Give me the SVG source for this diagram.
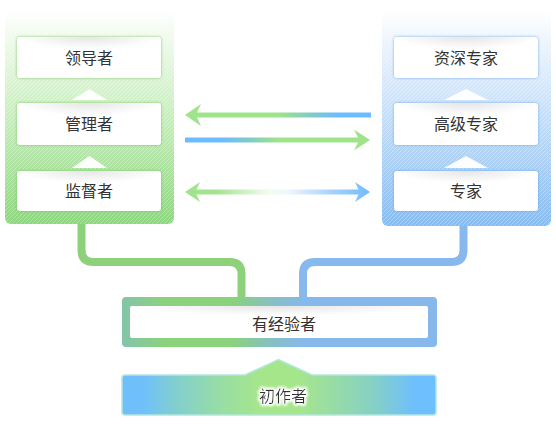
<svg xmlns="http://www.w3.org/2000/svg" width="556" height="432" viewBox="0 0 556 432">
<defs>
<style>
.t{font-family:"Noto Sans CJK SC","Noto Sans",sans-serif;font-size:16px;fill:#333;text-anchor:middle}
.box{fill:#fff}
.shade{fill:url(#shade)}
.tri{fill:#fff}
.conn{fill:none;stroke-width:8}
</style>
<linearGradient id="gPanel" x1="0" y1="0" x2="0" y2="1">
<stop offset="0" stop-color="#ffffff"/>
<stop offset="0.15" stop-color="#eef9ea"/>
<stop offset="0.5" stop-color="#c9edbf"/>
<stop offset="1" stop-color="#8ed680"/>
</linearGradient>
<linearGradient id="bPanel" x1="0" y1="0" x2="0" y2="1">
<stop offset="0" stop-color="#ffffff"/>
<stop offset="0.15" stop-color="#edf4fc"/>
<stop offset="0.5" stop-color="#c6def8"/>
<stop offset="1" stop-color="#87bcf0"/>
</linearGradient>
<pattern id="hatch" patternUnits="userSpaceOnUse" width="4" height="4">
<path d="M-1,1 l2,-2 M0,4 l4,-4 M3,5 l2,-2" stroke="#fff" stroke-opacity="0.3" stroke-width="1"/>
</pattern>
<radialGradient id="shade" cx="0.5" cy="0" r="0.5" gradientTransform="scale(1,0.6)">
<stop offset="0" stop-color="#000" stop-opacity="0.1"/>
<stop offset="1" stop-color="#000" stop-opacity="0"/>
</radialGradient>
<filter id="gGlow" x="-10%" y="-20%" width="120%" height="140%">
<feDropShadow dx="0" dy="0" stdDeviation="1.4" flood-color="#6fc45c" flood-opacity="0.9"/>
</filter>
<filter id="bGlow" x="-10%" y="-20%" width="120%" height="140%">
<feDropShadow dx="0" dy="0" stdDeviation="1.4" flood-color="#6aa8e8" flood-opacity="0.9"/>
</filter>
<filter id="wGlow" x="-20%" y="-40%" width="140%" height="180%">
<feMorphology in="SourceAlpha" operator="dilate" radius="1.2" result="d"/>
<feGaussianBlur in="d" stdDeviation="1.8" result="b"/>
<feFlood flood-color="#fff"/>
<feComposite in2="b" operator="in" result="g"/>
<feMerge><feMergeNode in="g"/><feMergeNode in="g"/><feMergeNode in="g"/><feMergeNode in="SourceGraphic"/></feMerge>
</filter>
<linearGradient id="aL" gradientUnits="userSpaceOnUse" x1="185" y1="0" x2="371" y2="0">
<stop offset="0" stop-color="#9fe38b"/>
<stop offset="0.5" stop-color="#9fe38b"/>
<stop offset="0.68" stop-color="#80cbc6"/>
<stop offset="0.82" stop-color="#6ebcff"/>
<stop offset="1" stop-color="#6ebcff"/>
</linearGradient>
<linearGradient id="aR" gradientUnits="userSpaceOnUse" x1="185" y1="0" x2="370" y2="0">
<stop offset="0" stop-color="#6ebcff"/>
<stop offset="0.2" stop-color="#6ebcff"/>
<stop offset="0.35" stop-color="#80cbc6"/>
<stop offset="0.5" stop-color="#9fe38b"/>
<stop offset="1" stop-color="#9fe38b"/>
</linearGradient>
<linearGradient id="aD" gradientUnits="userSpaceOnUse" x1="185" y1="0" x2="370" y2="0">
<stop offset="0" stop-color="#9fe38b"/>
<stop offset="0.18" stop-color="#a6e593"/>
<stop offset="0.45" stop-color="#f3fbef"/>
<stop offset="0.56" stop-color="#eef6fe"/>
<stop offset="0.8" stop-color="#a4d1fc"/>
<stop offset="1" stop-color="#6ebcff"/>
</linearGradient>
<linearGradient id="exp" gradientUnits="userSpaceOnUse" x1="122" y1="0" x2="437" y2="0">
<stop offset="0" stop-color="#84c4aa"/>
<stop offset="0.14" stop-color="#8bd27c"/>
<stop offset="0.35" stop-color="#8bd27c"/>
<stop offset="0.48" stop-color="#86bfc6"/>
<stop offset="0.58" stop-color="#87b8ec"/>
<stop offset="1" stop-color="#87b8ec"/>
</linearGradient>
<linearGradient id="beg" gradientUnits="userSpaceOnUse" x1="122" y1="0" x2="436" y2="0">
<stop offset="0" stop-color="#6ebffd"/>
<stop offset="0.07" stop-color="#70c0fa"/>
<stop offset="0.16" stop-color="#80cdd2"/>
<stop offset="0.3" stop-color="#96dca8"/>
<stop offset="0.44" stop-color="#a6e68b"/>
<stop offset="0.56" stop-color="#a6e68b"/>
<stop offset="0.8" stop-color="#86d0c4"/>
<stop offset="0.93" stop-color="#6ebffd"/>
<stop offset="1" stop-color="#6ebffd"/>
</linearGradient>
</defs>

<g id="connectors">
<path class="conn" stroke="#8dd27b" d="M81.5,222 V250 Q81.5,262 93.5,262 H229.5 Q241.5,262 241.5,274 V300"/>
<path class="conn" stroke="#88b9ee" d="M463.5,224 V250 Q463.5,262 451.5,262 H315 Q303,262 303,274 V300"/>
<path id="arrow-left" fill="url(#aL)" d="M185,115 L201,104 L197,112.5 H371 V117.5 H197 L201,126 Z"/>
<path id="arrow-right" fill="url(#aR)" d="M370,140 L354,129.5 L358,137.5 H185 V142.5 H358 L354,150.5 Z"/>
<path id="arrow-both" fill="url(#aD)" d="M185,192 L200,182 L196.5,189.5 H358.5 L355,182 L370,192 L355,202 L358.5,194.5 H196.5 L200,202 Z"/>
</g>

<g id="panel-left">
<rect x="5" y="10" width="169" height="214" rx="6" fill="url(#gPanel)"/>
<rect x="5" y="10" width="169" height="214" rx="6" fill="url(#hatch)"/>
</g>
<g id="panel-right">
<rect x="382" y="10" width="169" height="216" rx="6" fill="url(#bPanel)"/>
<rect x="382" y="10" width="169" height="216" rx="6" fill="url(#hatch)"/>
</g>

<g id="leader">
<rect class="box" x="17" y="37" width="144" height="41" rx="3" filter="url(#gGlow)"/>
<rect class="shade" x="17" y="37" width="144" height="41" rx="3"/>
<text class="t" x="89" y="64">领导者</text>
</g>
<polygon class="tri" points="72,100 89.5,89 107,100" fill-opacity="0.95"/>
<g id="manager">
<rect class="box" x="17" y="103" width="144" height="42" rx="3" filter="url(#gGlow)"/>
<rect class="shade" x="17" y="103" width="144" height="42" rx="3"/>
<text class="t" x="89" y="130">管理者</text>
</g>
<polygon class="tri" points="72,168 89.5,156 107,168" fill-opacity="0.95"/>
<g id="supervisor">
<rect class="box" x="17" y="171" width="144" height="40" rx="3" filter="url(#gGlow)"/>
<rect class="shade" x="17" y="171" width="144" height="40" rx="3"/>
<text class="t" x="89" y="197">监督者</text>
</g>

<g id="senior-expert">
<rect class="box" x="394" y="37" width="144" height="41" rx="3" filter="url(#bGlow)"/>
<rect class="shade" x="394" y="37" width="144" height="41" rx="3"/>
<text class="t" x="466" y="64">资深专家</text>
</g>
<polygon class="tri" points="444,100 466,89 488,100" fill-opacity="0.95"/>
<g id="advanced-expert">
<rect class="box" x="394" y="103" width="144" height="42" rx="3" filter="url(#bGlow)"/>
<rect class="shade" x="394" y="103" width="144" height="42" rx="3"/>
<text class="t" x="466" y="130">高级专家</text>
</g>
<polygon class="tri" points="444,168 466,156 488,168" fill-opacity="0.95"/>
<g id="expert">
<rect class="box" x="394" y="171" width="144" height="40" rx="3" filter="url(#bGlow)"/>
<rect class="shade" x="394" y="171" width="144" height="40" rx="3"/>
<text class="t" x="466" y="197">专家</text>
</g>

<g id="experienced">
<rect x="122" y="297" width="315" height="50" rx="4" fill="url(#exp)"/>
<rect class="box" x="130" y="306" width="298" height="32" rx="2"/>
<rect class="shade" x="130" y="306" width="298" height="32" rx="2"/>
<text class="t" x="284" y="330">有经验者</text>
</g>

<g id="beginner">
<path d="M125,375 H245 L278.5,359.5 L312,375 H433 Q436,375 436,378 V412 Q436,415 433,415 H125 Q122,415 122,412 V378 Q122,375 125,375 Z" fill="url(#beg)" stroke="#b3e6de" stroke-width="1.5"/>
<text class="t" x="283" y="402" filter="url(#wGlow)">初作者</text>
</g>
</svg>
